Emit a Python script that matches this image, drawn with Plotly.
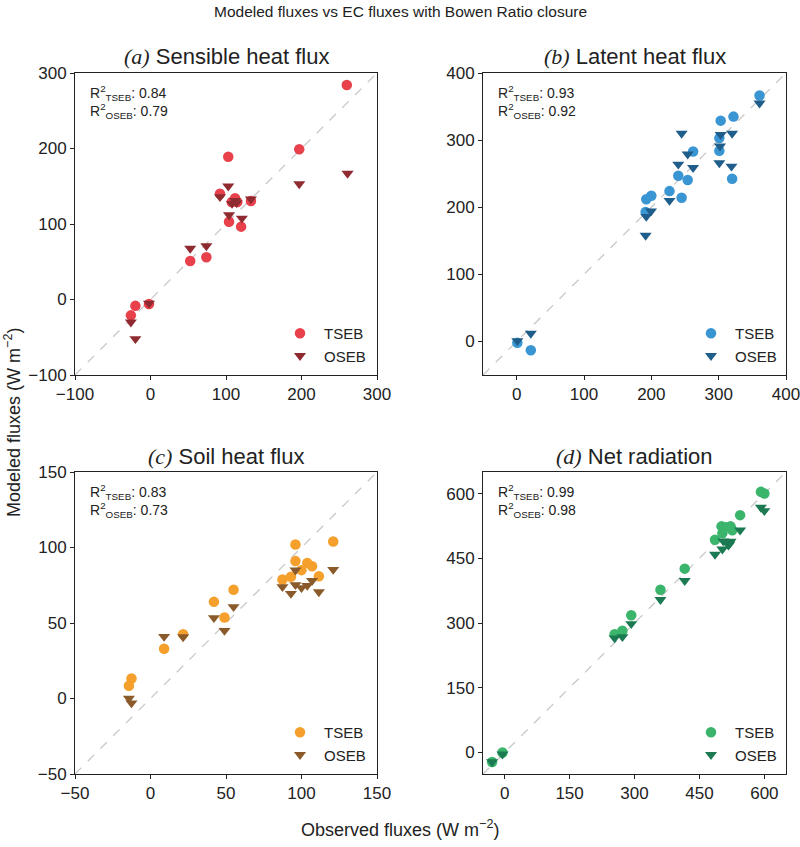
import plotly.graph_objects as go

# ---------------- data ----------------
# (a) Sensible heat flux
h_obs_tseb = [260, 197, 103, 92, 112, 107.5, 115, 133, 104, 120, 52.6, 74, -2, -20, -26]
h_mod_tseb = [284, 199, 189, 140, 134, 129, 129, 130.5, 103, 96.5, 51, 56, -6, -8.4, -21]
h_obs_oseb = [261, 197, 103, 92, 108, 114, 133, 104, 121, 52.6, 74, -2, -26, -20, 112]
h_mod_oseb = [167, 153, 150, 136, 127, 128, 133, 112, 107.5, 67.7, 71, -5, -30, -52, 131]

# (b) Latent heat flux
le_obs_tseb = [360.7, 322, 303, 301, 301, 320, 262, 240, 254, 245, 227, 200, 192.5, 191.5, 1, 21]
le_mod_tseb = [366.5, 335, 329, 303, 284, 242.5, 283, 247, 240.5, 214, 224, 217, 212, 193, -2, -13]
le_obs_oseb = [360.7, 303, 302, 301, 320, 319, 245, 240, 254, 262, 227, 199.5, 192.5, 191.5, 1, 21]
le_mod_oseb = [355, 308, 291, 266, 310, 261, 310, 264, 279, 259, 210, 194, 186, 158, 1, 12]

# (c) Soil heat flux
g_obs_tseb = [121, 96, 96, 103.8, 107, 100, 93, 87.4, 111.5, 55, 42, 49, 21.6, 9, -12.6, -14.3]
g_mod_tseb = [104, 102, 91, 89.8, 87.6, 85, 80.6, 78.8, 81, 72, 64, 53.6, 42.6, 33, 13.2, 8.4]
g_obs_oseb = [121, 96, 96, 103.8, 107, 100, 93, 87.4, 111.5, 55, 42, 49, 21.6, 9, -14.3, -12.6]
g_mod_oseb = [85.4, 85, 75.3, 74.8, 78, 73.3, 69.5, 74, 70.6, 60.7, 53.4, 45, 40.8, 41, 0, -3]

# (d) Net radiation
rn_obs_tseb = [592, 600, 544, 501, 522, 511, 503, 526, 486, 416, 360, 292.5, 272, 254, -5, -29]
rn_mod_tseb = [604, 600, 550, 524, 524, 522, 508, 515, 493, 426, 377, 318, 282, 274, 0, -22]
rn_obs_oseb = [592, 600, 544, 505, 519, 522, 503, 486, 416, 360, 292.5, 272, 254, -5, -29, 517]
rn_mod_oseb = [568, 560, 515, 490, 483, 489, 471, 459, 398, 354, 298, 268, 265, -4, -22, 480]

panel_titles = ["Sensible heat flux", "Latent heat flux", "Soil heat flux", "Net radiation"]
panel_letters = ["a", "b", "c", "d"]
r2_tseb = ["0.84", "0.93", "0.83", "0.99"]
r2_oseb = ["0.79", "0.92", "0.73", "0.98"]
axis_ranges = [(-100, 300), (-50, 400), (-50, 150), (-50, 650)]
tick_vals = [[-100, 0, 100, 200, 300], [0, 100, 200, 300, 400],
             [-50, 0, 50, 100, 150], [0, 150, 300, 450, 600]]
tseb_colors = ["#e8414c", "#3a95d3", "#f5a02c", "#3cb56c"]
oseb_colors = ["#8f2b30", "#1f5d8a", "#8a5a2a", "#1b7a52"]

series = [
    (h_obs_tseb, h_mod_tseb, h_obs_oseb, h_mod_oseb),
    (le_obs_tseb, le_mod_tseb, le_obs_oseb, le_mod_oseb),
    (g_obs_tseb, g_mod_tseb, g_obs_oseb, g_mod_oseb),
    (rn_obs_tseb, rn_mod_tseb, rn_obs_oseb, rn_mod_oseb),
]

FONT = "Liberation Sans, Arial"

# ---------------- layout geometry (pixels) ----------------
W, H = 800, 847
ML, MR, MT, MB = 75, 14, 73, 73
PW, PH = W - ML - MR, H - MT - MB

def px(x):
    return (x - ML) / PW

def py(y):
    return (H - MB - y) / PH

col_px = [(75, 377), (483, 786)]
row_px = [(73, 375), (472, 774)]

fig = go.Figure()
annotations = []
layout_axes = {}
legend_names = ["legend", "legend2", "legend3", "legend4"]

for i in range(4):
    r, c = divmod(i, 2)
    xs = "" if i == 0 else str(i + 1)
    xa_name, ya_name = "xaxis" + xs, "yaxis" + xs
    xref, yref = "x" + xs, "y" + xs
    x0p, x1p = col_px[c]
    y0p, y1p = row_px[r]
    lo, hi = axis_ranges[i]
    common = dict(range=[lo, hi], tickvals=tick_vals[i], showgrid=False, zeroline=False,
                  showline=True, linecolor="#222", linewidth=1, mirror=True,
                  ticks="outside", ticklen=4, tickcolor="#222", automargin=False,
                  ticklabeloverflow="allow",
                  tickfont=dict(family=FONT, size=17, color="#222"))
    layout_axes[xa_name] = dict(domain=[px(x0p), px(x1p)], anchor=yref, **common)
    layout_axes[ya_name] = dict(domain=[py(y1p), py(y0p)], anchor=xref, **common)

    ox_t, oy_t, ox_o, oy_o = series[i]
    # 1:1 line
    fig.add_trace(go.Scatter(x=[lo, hi], y=[lo, hi], mode="lines", xaxis=xref, yaxis=yref,
                             line=dict(color="#c8c8c8", width=1.3, dash="dash"),
                             showlegend=False, hoverinfo="skip"))
    fig.add_trace(go.Scatter(x=ox_t, y=oy_t, mode="markers", name="TSEB", xaxis=xref, yaxis=yref,
                             marker=dict(symbol="circle", size=10.5, color=tseb_colors[i], line=dict(width=0)),
                             legend=legend_names[i]))
    fig.add_trace(go.Scatter(x=ox_o, y=oy_o, mode="markers", name="OSEB", xaxis=xref, yaxis=yref,
                             marker=dict(symbol="triangle-down", size=10.5, color=oseb_colors[i], line=dict(width=0)),
                             legend=legend_names[i]))

    # subplot title
    annotations.append(dict(
        text=f"<span style='font-family:Liberation Serif'><i>({panel_letters[i]})</i></span> {panel_titles[i]}",
        x=px((x0p + x1p) / 2), y=py(y0p - 16), xref="paper", yref="paper",
        xanchor="center", yanchor="middle", showarrow=False,
        font=dict(family=FONT, size=22, color="#222")))
    # R2 annotations
    annotations.append(dict(
        text=f"R<sup>2</sup><sub>TSEB</sub>: {r2_tseb[i]}",
        x=px(x0p + 13), y=py(y0p + 20), xref="paper", yref="paper",
        xanchor="left", yanchor="middle", showarrow=False,
        font=dict(family=FONT, size=14, color="#222")))
    annotations.append(dict(
        text=f"R<sup>2</sup><sub>OSEB</sub>: {r2_oseb[i]}",
        x=px(x0p + 13), y=py(y0p + 38), xref="paper", yref="paper",
        xanchor="left", yanchor="middle", showarrow=False,
        font=dict(family=FONT, size=14, color="#222")))

# legends: anchored at their right edge, inside the axes (no margin push)
leg_pos = [(371, 317), (782, 317), (371, 716), (782, 716)]
legend_layout = {}
for i, name in enumerate(legend_names):
    lx, ly = leg_pos[i]
    legend_layout[name] = dict(x=px(lx), y=py(ly), xanchor="right", yanchor="top",
                               bgcolor="rgba(0,0,0,0)", borderwidth=0,
                               font=dict(family=FONT, size=15, color="#222"),
                               itemwidth=38, tracegroupgap=0)

# figure-level texts
annotations.append(dict(text="Modeled fluxes vs EC fluxes with Bowen Ratio closure",
                        x=px(400), y=py(11), xref="paper", yref="paper", xanchor="center",
                        yanchor="middle", showarrow=False,
                        font=dict(family=FONT, size=15.5, color="#222")))
annotations.append(dict(text="Observed fluxes (W m<sup>\u22122</sup>)",
                        x=px(400), y=py(828), xref="paper", yref="paper", xanchor="center",
                        yanchor="middle", showarrow=False,
                        font=dict(family=FONT, size=18, color="#222")))
annotations.append(dict(text="Modeled fluxes (W m<sup>\u22122</sup>)",
                        x=px(12), y=py(423), xref="paper", yref="paper", xanchor="center",
                        yanchor="middle", showarrow=False, textangle=-90,
                        font=dict(family=FONT, size=18, color="#222")))

fig.update_layout(width=W, height=H, autosize=False,
                  margin=dict(l=ML, r=MR, t=MT, b=MB, autoexpand=False),
                  paper_bgcolor="white", plot_bgcolor="white",
                  annotations=annotations, **layout_axes, **legend_layout)

fig.write_html("out.html",
               config={"responsive": False, "displayModeBar": False},
               post_script="document.body.style.margin='0';document.body.style.overflow='hidden';")
